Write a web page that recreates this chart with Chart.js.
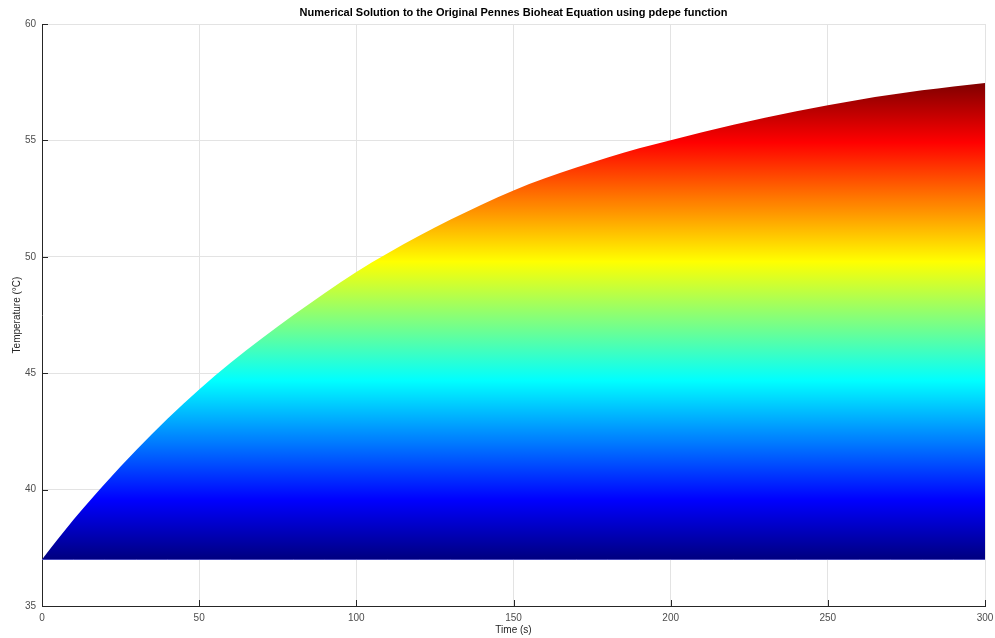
<!DOCTYPE html>
<html>
<head>
<meta charset="utf-8">
<script src="https://cdn.jsdelivr.net/npm/chart.js@4/dist/chart.umd.min.js"></script>
<style>
  body { margin: 0; background: #fff; }
  #wrap { width: 995px; height: 638px; }
</style>
</head>
<body>
<div id="wrap"><canvas id="bioheatChart" width="995" height="638"></canvas></div>
<script>
// surface temperature, every 10 s
const times = [0, 10, 20, 30, 40, 50, 60, 70, 80, 90, 100, 110, 120, 130, 140, 150,
  160, 170, 180, 190, 200, 210, 220, 230, 240, 250, 260, 270, 280, 290, 300];
const temps = [37.0, 38.7, 40.25, 41.7, 43.05, 44.3, 45.45, 46.5, 47.5, 48.45, 49.35,
  50.15, 50.9, 51.6, 52.25, 52.85, 53.37, 53.84, 54.27, 54.66, 55.01, 55.35, 55.67,
  55.97, 56.25, 56.51, 56.75, 56.96, 57.15, 57.32, 57.47];
const baseTemp = 37;
const xTicks = [0, 50, 100, 150, 200, 250, 300];
const yTicks = [35, 40, 45, 50, 55, 60];

const titleText = 'Numerical Solution to the Original Pennes Bioheat Equation using pdepe function';
const font = '"Liberation Sans", Arial, Helvetica, sans-serif';

function jet(v) {
  const c = k => Math.round(255 * Math.max(0, Math.min(1, 1.5 - Math.abs(4 * v - k))));
  return `rgb(${c(3)},${c(2)},${c(1)})`;
}

// jet colour fill mapped from baseTemp up to the hottest value
function jetFill(context) {
  const chart = context.chart;
  if (!chart.chartArea) return null;
  const y = chart.scales.y;
  const lo = baseTemp, hi = Math.max(...temps);
  const g = chart.ctx.createLinearGradient(0, y.getPixelForValue(lo), 0, y.getPixelForValue(hi));
  const n = 128;
  for (let i = 0; i <= n; i++) g.addColorStop(i / n, jet(i / n));
  return g;
}

const matlabAxes = {
  id: 'matlabAxes',
  afterDatasetsDraw(chart) {
    const { ctx, chartArea: a, scales } = chart;
    ctx.save();
    ctx.strokeStyle = '#262626';
    ctx.lineWidth = 1;
    ctx.beginPath();
    xTicks.forEach(t => {
      const px = Math.round(scales.x.getPixelForValue(t)) + 0.5;
      ctx.moveTo(px, a.bottom);
      ctx.lineTo(px, a.bottom - 6);
    });
    yTicks.forEach(t => {
      const py = Math.round(scales.y.getPixelForValue(t)) + 0.5;
      ctx.moveTo(a.left, py);
      ctx.lineTo(a.left + 6, py);
    });
    ctx.stroke();
    ctx.fillStyle = '#000';
    ctx.font = 'bold 11px ' + font;
    ctx.textAlign = 'center';
    ctx.textBaseline = 'middle';
    ctx.fillText(titleText, (a.left + a.right) / 2, 13);
    ctx.restore();
  }
};

new Chart(document.getElementById('bioheatChart'), {
  type: 'line',
  data: {
    datasets: [{
      label: 'Temperature',
      data: times.map((t, i) => ({ x: t, y: temps[i] })),
      borderWidth: 0,
      borderColor: 'rgba(0,0,0,0)',
      pointRadius: 0,
      cubicInterpolationMode: 'monotone',
      fill: { value: baseTemp },
      backgroundColor: jetFill
    }, {
      label: 'Base',
      data: times.map(t => ({ x: t, y: baseTemp })),
      borderColor: '#8c8cff',
      borderWidth: 1,
      pointRadius: 0,
      fill: false
    }]
  },
  options: {
    responsive: false,
    animation: false,
    devicePixelRatio: 1,
    layout: { padding: { top: 24, right: 10, left: 0, bottom: 0 } },
    plugins: { legend: { display: false }, tooltip: { enabled: false } },
    scales: {
      x: {
        type: 'linear',
        min: 0, max: 300,
        afterBuildTicks: s => { s.ticks = xTicks.map(v => ({ value: v })); },
        afterFit: s => { s.height = 32; s.paddingRight = 0; s.paddingLeft = 0; },
        grid: { color: '#e3e3e3', drawTicks: false },
        border: { color: '#262626', width: 1 },
        ticks: { color: '#4d4d4d', padding: 6, font: { family: font, size: 10 }, maxRotation: 0 },
        title: { display: true, text: 'Time (s)', color: '#262626', font: { family: font, size: 10 }, padding: { top: 0, bottom: 2 } }
      },
      y: {
        min: 35, max: 60,
        afterBuildTicks: s => { s.ticks = yTicks.map(v => ({ value: v })); },
        afterFit: s => { s.width = 42; },
        grid: { color: '#e3e3e3', drawTicks: false },
        border: { color: '#262626', width: 1 },
        ticks: { color: '#4d4d4d', padding: 6, font: { family: font, size: 10 } },
        title: { display: true, text: 'Temperature (°C)', color: '#262626', font: { family: font, size: 10 }, padding: { top: 11, bottom: 0 } }
      }
    }
  },
  plugins: [matlabAxes]
});
</script>
</body>
</html>
